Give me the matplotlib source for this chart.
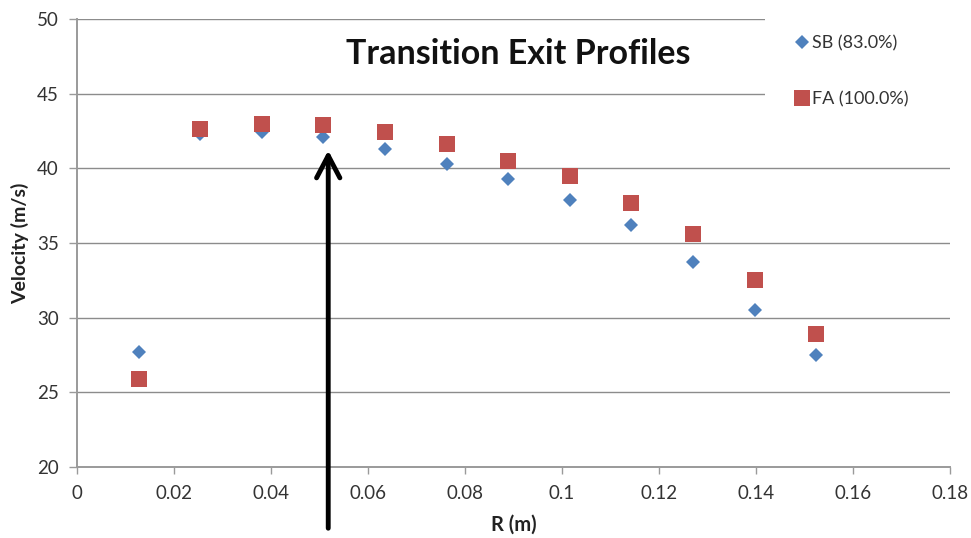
import matplotlib.pyplot as plt
from matplotlib.patches import Rectangle

# radial position (m) and exit velocity (m/s) for the two runs
r = [0.0127, 0.0254, 0.0381, 0.0508, 0.0635, 0.0762, 0.0889, 0.1016, 0.1143, 0.127, 0.1397, 0.1524]
sb = [27.7, 42.3, 42.4, 42.1, 41.3, 40.3, 39.3, 37.9, 36.2, 33.7, 30.5, 27.5]
fa = [25.9, 42.65, 42.95, 42.9, 42.4, 41.65, 40.5, 39.5, 37.7, 35.6, 32.5, 28.9]
labels = ['SB (83.0%)', 'FA (100.0%)']

# where the arrow points
arrow_r = 0.0518
arrow_top = 41.2

plt.rcParams['font.family'] = ['Lato', 'DejaVu Sans']

fig = plt.figure(figsize=(9.71, 5.38), dpi=100)
ax = fig.add_axes([77 / 971, 1 - 467 / 538, 873 / 971, 448 / 538])

ax.plot(r, sb, 'D', color='#4F81BD', markersize=7.5, markeredgewidth=0, label=labels[0], zorder=3)
ax.plot(r, fa, 's', color='#C0504D', markersize=11.5, markeredgewidth=0, label=labels[1], zorder=4)

ax.set_xlim(0, 0.18)
ax.set_ylim(20, 50)
ax.set_xticks([0, 0.02, 0.04, 0.06, 0.08, 0.1, 0.12, 0.14, 0.16, 0.18])
ax.set_xticklabels(['0', '0.02', '0.04', '0.06', '0.08', '0.1', '0.12', '0.14', '0.16', '0.18'])
ax.set_yticks([20, 25, 30, 35, 40, 45, 50])

ax.grid(axis='y', color='#8c8c8c', linewidth=1.0)
ax.set_axisbelow(True)
for side in ['top', 'right']:
    ax.spines[side].set_visible(False)
for side in ['left', 'bottom']:
    ax.spines[side].set_color('#9a9a9a')
    ax.spines[side].set_linewidth(1.4)

ax.tick_params(axis='x', direction='out', length=5, width=1, color='#9a9a9a', pad=8,
               labelsize=13.5, labelcolor='#333333')
ax.tick_params(axis='y', direction='out', length=6, width=1, color='#9a9a9a', pad=7,
               labelsize=13.5, labelcolor='#333333')

ax.set_xlabel('R (m)', fontsize=14.5, fontweight='bold', color='#222222')
ax.xaxis.label.set_verticalalignment('center')
ax.xaxis.set_label_coords(0.5, -0.129)
ax.set_ylabel('Velocity (m/s)', fontsize=14, fontweight='bold', color='#222222')
ax.yaxis.label.set_verticalalignment('center')
ax.yaxis.set_label_coords(-0.065, 0.5)

ax.text(0.506, 0.922, 'Transition Exit Profiles', transform=ax.transAxes,
        ha='center', va='center', fontsize=24.5, fontweight='bold', color='#111111')

ax.annotate('', xy=(arrow_r, arrow_top), xytext=(arrow_r, 15.9),
            arrowprops=dict(arrowstyle='->,head_length=0.8,head_width=0.42', lw=3.5,
                            color='black', mutation_scale=20, shrinkA=0, shrinkB=0),
            annotation_clip=False)

# white box behind the legend
fig.add_artist(Rectangle((765 / 971, 1 - 140 / 538), 206 / 971, 140 / 538,
                         transform=fig.transFigure, facecolor='white', edgecolor='none', zorder=1))
fig.legend(loc='upper left', bbox_to_anchor=(795 / 971, 1 - 35 / 538), frameon=False,
           fontsize=13, handlelength=0.8, handletextpad=0.16, labelspacing=2.2,
           borderpad=0, borderaxespad=0, labelcolor='#333333')

fig.savefig('out.png', dpi=100)
